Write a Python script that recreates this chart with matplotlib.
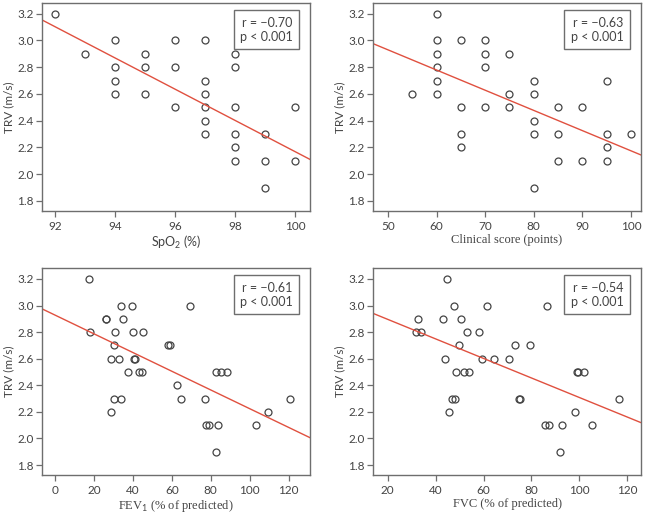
import numpy as np
import matplotlib.pyplot as plt

plt.rcParams["mathtext.fontset"] = "custom"
plt.rcParams["mathtext.rm"] = "Lato"
plt.rcParams["mathtext.it"] = "Lato:italic"

# ---- data ----
spo2 = [92, 93, 94, 94, 94, 94, 95, 95, 95, 96, 96, 96,
        97, 97, 97, 97, 97, 97, 98, 98, 98, 98, 98, 98,
        99, 99, 99, 100, 100]
trv_spo2 = [3.2, 2.9, 3.0, 2.8, 2.7, 2.6, 2.9, 2.8, 2.6, 3.0, 2.8, 2.5,
            3.0, 2.7, 2.6, 2.5, 2.4, 2.3, 2.9, 2.8, 2.5, 2.3, 2.2, 2.1,
            2.3, 2.1, 1.9, 2.5, 2.1]

score = [55, 60, 60, 60, 60, 60, 60, 65, 65, 65, 65, 70, 70, 70, 70,
         75, 75, 75, 80, 80, 80, 80, 80, 85, 85, 85, 90, 90,
         95, 95, 95, 95, 100]
trv_score = [2.6, 3.2, 3.0, 2.9, 2.8, 2.7, 2.6, 3.0, 2.5, 2.3, 2.2, 3.0, 2.9, 2.8, 2.5,
             2.9, 2.6, 2.5, 2.7, 2.6, 2.4, 2.3, 1.9, 2.5, 2.3, 2.1, 2.5, 2.1,
             2.7, 2.3, 2.2, 2.1, 2.3]

fev1 = [17.7, 18.0, 26.0, 26.2, 30.7, 30.3, 28.8, 30.2, 28.8, 33.8, 34.8, 33.0,
        34.0, 39.4, 40.3, 37.7, 40.6, 41.1, 43.4, 44.6, 45.4, 58.3, 59.3, 69.1,
        62.7, 64.8, 77.1, 77.7, 78.9, 82.5, 82.6, 85.4, 88.3, 83.7, 103.4,
        109.4, 120.5]
trv_fev1 = [3.2, 2.8, 2.9, 2.9, 2.8, 2.7, 2.6, 2.3, 2.2, 3.0, 2.9, 2.6,
            2.3, 3.0, 2.8, 2.5, 2.6, 2.6, 2.5, 2.5, 2.8, 2.7, 2.7, 3.0,
            2.4, 2.3, 2.3, 2.1, 2.1, 1.9, 2.5, 2.5, 2.5, 2.1, 2.1,
            2.2, 2.3]

fvc = [32.0, 32.5, 33.8, 43.1, 44.1, 44.8, 45.7, 46.8, 48.0, 47.8, 48.7, 49.8,
       50.5, 51.8, 53.8, 53.0, 58.2, 59.4, 61.6, 64.4, 70.8, 73.0, 74.7, 75.2,
       79.2, 85.5, 86.6, 87.5, 91.9, 92.9, 98.2, 98.9, 99.6, 101.9, 105.1, 116.7]
trv_fvc = [2.8, 2.9, 2.8, 2.9, 2.6, 3.2, 2.2, 2.3, 2.3, 3.0, 2.5, 2.7,
           2.9, 2.5, 2.5, 2.8, 2.8, 2.6, 3.0, 2.6, 2.6, 2.7, 2.3, 2.3,
           2.7, 2.1, 3.0, 2.1, 1.9, 2.1, 2.2, 2.5, 2.5, 2.5, 2.1, 2.3]

# regression lines (slope, intercept) and stats as printed
fits = [(-0.1165, 13.819), (-0.0151, 3.685), (-0.00704, 2.928), (-0.00735, 3.043)]
r_text = ["r = \u22120.70", "r = \u22120.63", "r = \u22120.61", "r = \u22120.54"]
p_text = "p < 0.001"

xlabels = ["SpO$_{2}$ (%)", "Clinical score (points)", "FEV$_{1}$ (% of predicted)",
           "FVC (% of predicted)"]
xlims = [(91.55, 100.5), (47.0, 102.0), (-6.7, 131.0), (14.0, 125.6)]
xticks = [[92, 94, 96, 98, 100], [50, 60, 70, 80, 90, 100],
          [0, 20, 40, 60, 80, 100, 120], [20, 40, 60, 80, 100, 120]]
yticks = [1.8, 2.0, 2.2, 2.4, 2.6, 2.8, 3.0, 3.2]

xs_all = [spo2, score, fev1, fvc]
ys_all = [trv_spo2, trv_score, trv_fev1, trv_fvc]

# axes boxes in figure fractions [left, bottom, width, height]
boxes = [[0.0651, 0.5903, 0.4155, 0.4039],
         [0.5788, 0.5903, 0.4145, 0.4039],
         [0.0651, 0.0777, 0.4155, 0.4013],
         [0.5788, 0.0777, 0.4145, 0.4013]]

grey = "#6e6e6e"
txt = "#444444"
sans = ["Lato", "DejaVu Sans"]
serif = ["Liberation Serif", "DejaVu Serif"]
xlab_fonts = [sans, serif, serif, serif]

fig = plt.figure(figsize=(6.45, 5.15), dpi=100)

for i in range(4):
    ax = fig.add_axes(boxes[i])
    ax.plot(xs_all[i], ys_all[i], "o", ms=5.0, mfc="none", mec="#444444", mew=0.9)
    slope, icpt = fits[i]
    lx = np.array(xlims[i])
    ax.plot(lx, slope * lx + icpt, color="#e0503f", lw=1.0)
    ax.set_xlim(xlims[i])
    ax.set_ylim(1.725, 3.28)
    ax.set_xticks(xticks[i])
    ax.set_yticks(yticks)
    ax.set_yticklabels([f"{v:.1f}" for v in yticks])
    for s in ax.spines.values():
        s.set_color(grey)
        s.set_linewidth(1.0)
    ax.tick_params(colors=grey, labelcolor=txt, labelsize=8.5, length=4, width=0.9)
    ax.tick_params(axis="y", pad=2)
    for lab in ax.get_xticklabels() + ax.get_yticklabels():
        lab.set_family(sans)
    ax.set_ylabel("TRV (m/s)", fontsize=8.5, color=txt, family=sans, labelpad=2)
    ax.set_xlabel(xlabels[i], fontsize=9, color=txt, family=xlab_fonts[i], labelpad=1)
    ax.text(0.935, 0.935, r_text[i] + "\n" + p_text, transform=ax.transAxes,
            ha="right", va="top", fontsize=9, color=txt, family=sans,
            linespacing=1.2,
            bbox=dict(boxstyle="square,pad=0.5", fc="white", ec=grey, lw=1.0))

fig.savefig("out.png", dpi=100)
